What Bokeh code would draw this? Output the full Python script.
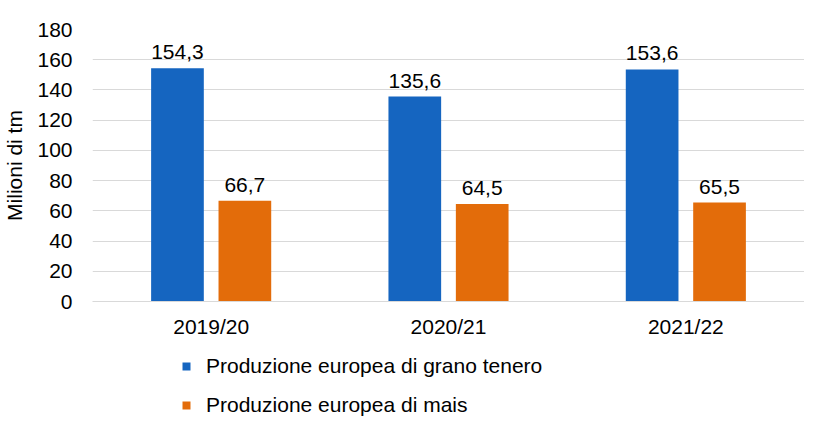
from bokeh.plotting import figure
from bokeh.models import ColumnDataSource, Legend, LegendItem, FactorRange, Range1d
from bokeh.layouts import column
from bokeh.transform import dodge
from bokeh.core.properties import value
from bokeh.embed import file_html
from bokeh.resources import INLINE

categories = ["2019/20", "2020/21", "2021/22"]
grano = [154.3, 135.6, 153.6]
mais = [66.7, 64.5, 65.5]
series_names = ["Produzione europea di grano tenero", "Produzione europea di mais"]
y_ticks = [0, 20, 40, 60, 80, 100, 120, 140, 160, 180]

BLUE = "#1565C0"
ORANGE = "#E36C0A"
FONT = "Liberation Sans"
FS = "21px"

def fmt(v):
    return f"{v:.1f}".replace(".", ",")

src = ColumnDataSource(dict(
    cat=categories,
    grano=grano,
    mais=mais,
    grano_lbl=[fmt(v) for v in grano],
    mais_lbl=[fmt(v) for v in mais],
))

p = figure(width=804, height=340, x_range=FactorRange(*categories), y_range=(0, 180),
           output_backend="svg", toolbar_location=None,
           min_border_left=0, min_border_right=0, min_border_top=29, min_border_bottom=38)
p.outline_line_color = None
p.background_fill_color = "white"
p.border_fill_color = "white"

p.vbar(x=dodge("cat", -0.142, range=p.x_range), top="grano", width=0.222,
       source=src, fill_color=BLUE, line_color=None)
p.vbar(x=dodge("cat", 0.142, range=p.x_range), top="mais", width=0.222,
       source=src, fill_color=ORANGE, line_color=None)

p.text(x=dodge("cat", -0.142, range=p.x_range), y="grano", text="grano_lbl", source=src,
       text_align="center", text_baseline="bottom", y_offset=-9,
       text_font=value(FONT), text_font_size=FS, text_color="#000000")
p.text(x=dodge("cat", 0.142, range=p.x_range), y="mais", text="mais_lbl", source=src,
       text_align="center", text_baseline="bottom", y_offset=-9,
       text_font=value(FONT), text_font_size=FS, text_color="#000000")

p.yaxis.ticker = y_ticks
p.yaxis.axis_line_color = None
p.yaxis.major_tick_line_color = None
p.yaxis.minor_tick_line_color = None
p.yaxis.major_tick_out = 0
p.yaxis.major_tick_in = 0
p.yaxis.minor_tick_out = 0
p.yaxis.major_label_text_font = FONT
p.yaxis.major_label_text_font_size = FS
p.yaxis.major_label_text_color = "#000000"
p.yaxis.major_label_standoff = 20
p.yaxis.axis_label = "Milioni di tm"
p.yaxis.axis_label_text_font = FONT
p.yaxis.axis_label_text_font_size = FS
p.yaxis.axis_label_text_font_style = "normal"
p.yaxis.axis_label_text_color = "#000000"
p.yaxis.axis_label_standoff = 8

p.xaxis.axis_line_color = "#d9d9d9"
p.xaxis.major_tick_line_color = None
p.xaxis.minor_tick_line_color = None
p.xaxis.major_tick_out = 0
p.xaxis.major_tick_in = 0
p.xaxis.major_label_text_font = FONT
p.xaxis.major_label_text_font_size = FS
p.xaxis.major_label_text_color = "#000000"
p.xaxis.major_label_standoff = 13

p.xgrid.grid_line_color = None
p.ygrid.grid_line_color = "#d9d9d9"
p.ygrid.grid_line_width = 1

# legend strip beneath the chart (frames are aligned by the column layout)
lg = figure(width=804, height=77, x_range=Range1d(0, 1), y_range=Range1d(0, 1),
            output_backend="svg", toolbar_location=None,
            min_border_left=0, min_border_right=0, min_border_top=0, min_border_bottom=0)
lg.axis.visible = False
lg.grid.grid_line_color = None
lg.outline_line_color = None
lg.border_fill_color = "white"
# off-range placeholder glyphs that only provide the legend swatches
d1 = lg.vbar(x=[-5], top=[-5], bottom=[-6], width=0.1, fill_color=BLUE, line_color=None)
d2 = lg.vbar(x=[-5], top=[-5], bottom=[-6], width=0.1, fill_color=ORANGE, line_color=None)

legend = Legend(items=[LegendItem(label=series_names[0], renderers=[d1]),
                       LegendItem(label=series_names[1], renderers=[d2])],
                location=(89, 0), orientation="vertical",
                border_line_color=None, background_fill_alpha=0,
                label_text_font=FONT, label_text_font_size=FS, label_text_color="#000000",
                glyph_width=10, glyph_height=10, label_standoff=15,
                spacing=15, padding=0, margin=0, label_height=20)
lg.add_layout(legend, "center")

layout = column(p, lg, spacing=0)
open("out.html", "w").write(file_html(layout, INLINE))
